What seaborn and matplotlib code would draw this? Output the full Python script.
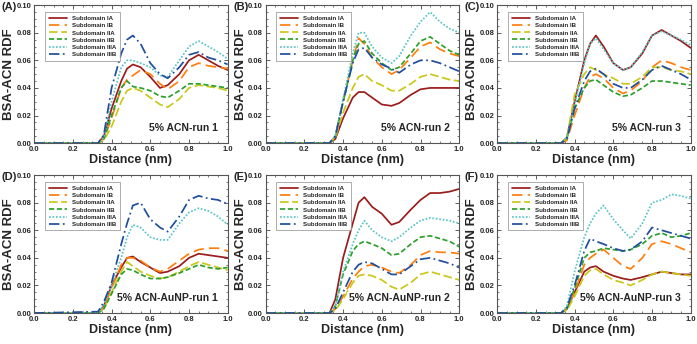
import numpy as np
import pandas as pd
import matplotlib
matplotlib.use("Agg")
import matplotlib.pyplot as plt
from matplotlib.ticker import MultipleLocator
import seaborn as sns

# data area
distance = [0.0, 0.33, 0.36, 0.40, 0.45, 0.48, 0.51, 0.55, 0.60, 0.65, 0.69,
            0.75, 0.80, 0.85, 0.90, 0.95, 1.00]
subdomains = ['Subdomain IA', 'Subdomain IB', 'Subdomain IIA',
              'Subdomain IIB', 'Subdomain IIIA', 'Subdomain IIIB']
panel_tags = ['(A)', '(B)', '(C)', '(D)', '(E)', '(F)']
run_names = ['5% ACN-run 1', '5% ACN-run 2', '5% ACN-run 3',
             '5% ACN-AuNP-run 1', '5% ACN-AuNP-run 2', '5% ACN-AuNP-run 3']

run_a = [
    [0, 0, 0.005, 0.025, 0.045, 0.054, 0.057, 0.055, 0.048, 0.040, 0.042, 0.050, 0.060, 0.064, 0.060, 0.056, 0.053],
    [0, 0, 0.003, 0.018, 0.040, 0.046, 0.049, 0.053, 0.050, 0.043, 0.039, 0.045, 0.055, 0.058, 0.056, 0.055, 0.054],
    [0, 0, 0.002, 0.012, 0.030, 0.038, 0.040, 0.038, 0.033, 0.028, 0.026, 0.032, 0.040, 0.042, 0.041, 0.040, 0.038],
    [0, 0, 0.003, 0.020, 0.040, 0.045, 0.041, 0.040, 0.038, 0.034, 0.033, 0.038, 0.043, 0.043, 0.042, 0.041, 0.040],
    [0, 0, 0.004, 0.030, 0.055, 0.060, 0.060, 0.058, 0.055, 0.049, 0.048, 0.060, 0.070, 0.074, 0.070, 0.066, 0.061],
    [0, 0, 0.006, 0.040, 0.065, 0.075, 0.078, 0.072, 0.058, 0.050, 0.047, 0.055, 0.064, 0.066, 0.062, 0.060, 0.057],
]
run_b = [
    [0, 0, 0.003, 0.018, 0.033, 0.037, 0.037, 0.033, 0.028, 0.027, 0.029, 0.035, 0.039, 0.040, 0.040, 0.040, 0.040],
    [0, 0, 0.005, 0.030, 0.060, 0.076, 0.072, 0.062, 0.055, 0.050, 0.053, 0.062, 0.070, 0.073, 0.068, 0.065, 0.063],
    [0, 0, 0.004, 0.022, 0.040, 0.048, 0.050, 0.045, 0.042, 0.038, 0.038, 0.043, 0.048, 0.050, 0.048, 0.046, 0.045],
    [0, 0, 0.005, 0.030, 0.060, 0.072, 0.074, 0.065, 0.058, 0.053, 0.055, 0.065, 0.074, 0.077, 0.072, 0.067, 0.064],
    [0, 0, 0.005, 0.032, 0.065, 0.080, 0.080, 0.070, 0.062, 0.058, 0.063, 0.078, 0.088, 0.095, 0.088, 0.083, 0.080],
    [0, 0, 0.005, 0.030, 0.058, 0.068, 0.069, 0.062, 0.057, 0.054, 0.051, 0.057, 0.060, 0.060, 0.058, 0.055, 0.052],
]
run_c = [
    [0, 0, 0.004, 0.030, 0.060, 0.072, 0.078, 0.070, 0.058, 0.053, 0.055, 0.065, 0.078, 0.082, 0.078, 0.074, 0.069],
    [0, 0, 0.002, 0.020, 0.040, 0.048, 0.050, 0.047, 0.040, 0.036, 0.038, 0.045, 0.055, 0.060, 0.058, 0.055, 0.053],
    [0, 0, 0.004, 0.035, 0.050, 0.055, 0.053, 0.050, 0.047, 0.043, 0.043, 0.048, 0.055, 0.055, 0.053, 0.052, 0.050],
    [0, 0, 0.003, 0.025, 0.040, 0.045, 0.046, 0.042, 0.037, 0.034, 0.035, 0.040, 0.045, 0.045, 0.044, 0.043, 0.042],
    [0, 0, 0.004, 0.028, 0.058, 0.072, 0.076, 0.068, 0.058, 0.053, 0.055, 0.066, 0.078, 0.081, 0.078, 0.075, 0.071],
    [0, 0, 0.003, 0.025, 0.045, 0.052, 0.054, 0.050, 0.043, 0.040, 0.040, 0.046, 0.053, 0.056, 0.053, 0.050, 0.046],
]
run_d = [
    [0, 0, 0.005, 0.020, 0.033, 0.040, 0.041, 0.037, 0.033, 0.029, 0.030, 0.034, 0.040, 0.043, 0.042, 0.041, 0.040],
    [0, 0, 0.004, 0.018, 0.035, 0.040, 0.040, 0.038, 0.033, 0.030, 0.032, 0.038, 0.043, 0.046, 0.047, 0.047, 0.045],
    [0, 0, 0.003, 0.015, 0.030, 0.037, 0.034, 0.030, 0.027, 0.025, 0.026, 0.030, 0.034, 0.037, 0.035, 0.033, 0.031],
    [0, 0, 0.003, 0.014, 0.028, 0.032, 0.031, 0.028, 0.025, 0.025, 0.026, 0.029, 0.032, 0.035, 0.033, 0.032, 0.033],
    [0, 0, 0.006, 0.020, 0.040, 0.055, 0.064, 0.062, 0.055, 0.053, 0.053, 0.065, 0.073, 0.076, 0.074, 0.070, 0.064],
    [0, 0.001, 0.008, 0.022, 0.050, 0.065, 0.078, 0.080, 0.068, 0.062, 0.059, 0.070, 0.082, 0.085, 0.083, 0.082, 0.079],
]
run_e = [
    [0, 0, 0.010, 0.040, 0.065, 0.080, 0.084, 0.077, 0.072, 0.064, 0.066, 0.075, 0.082, 0.087, 0.087, 0.088, 0.090],
    [0, 0, 0.003, 0.012, 0.025, 0.030, 0.034, 0.035, 0.033, 0.030, 0.029, 0.035, 0.042, 0.045, 0.044, 0.044, 0.043],
    [0, 0, 0.002, 0.010, 0.022, 0.027, 0.028, 0.027, 0.024, 0.019, 0.017, 0.022, 0.028, 0.030, 0.028, 0.026, 0.024],
    [0, 0, 0.005, 0.028, 0.045, 0.050, 0.052, 0.050, 0.047, 0.042, 0.043, 0.050, 0.055, 0.056, 0.054, 0.052, 0.048],
    [0, 0, 0.005, 0.030, 0.050, 0.060, 0.067, 0.060, 0.055, 0.052, 0.055, 0.062, 0.067, 0.069, 0.068, 0.067, 0.065],
    [0, 0, 0.003, 0.015, 0.030, 0.035, 0.037, 0.036, 0.032, 0.028, 0.028, 0.034, 0.039, 0.040, 0.038, 0.036, 0.033],
]
run_f = [
    [0, 0, 0.003, 0.015, 0.030, 0.033, 0.034, 0.030, 0.027, 0.025, 0.024, 0.026, 0.028, 0.030, 0.029, 0.028, 0.028],
    [0, 0, 0.003, 0.015, 0.035, 0.040, 0.043, 0.046, 0.040, 0.034, 0.032, 0.040, 0.050, 0.052, 0.050, 0.047, 0.044],
    [0, 0, 0.002, 0.012, 0.027, 0.031, 0.032, 0.028, 0.024, 0.022, 0.020, 0.024, 0.028, 0.030, 0.029, 0.028, 0.027],
    [0, 0, 0.003, 0.018, 0.040, 0.044, 0.045, 0.047, 0.046, 0.045, 0.046, 0.050, 0.056, 0.058, 0.055, 0.056, 0.058],
    [0, 0, 0.005, 0.030, 0.055, 0.065, 0.072, 0.078, 0.068, 0.060, 0.054, 0.065, 0.080, 0.082, 0.086, 0.085, 0.083],
    [0, 0, 0.004, 0.020, 0.045, 0.054, 0.052, 0.050, 0.047, 0.045, 0.046, 0.052, 0.062, 0.060, 0.058, 0.056, 0.054],
]
all_runs = [run_a, run_b, run_c, run_d, run_e, run_f]

# styles
colors = ['#9b1c1c', '#ff7f0e', '#c9c81a', '#2ca02c', '#5cc4c4', '#1f4e9e']
dashes = [(None, None), (6, 3), (5, 2), (3, 1.5), (1, 1), (6, 2, 1, 2)]

sns.set_style('ticks')
plt.rcParams['font.family'] = ['Liberation Sans', 'DejaVu Sans']
plt.rcParams['font.weight'] = 'bold'

fig, axes = plt.subplots(2, 3, figsize=(6.97, 3.44), dpi=100)
fig.subplots_adjust(left=0.049, right=0.991, top=0.985, bottom=0.090,
                    wspace=0.196, hspace=0.232)

for i, ax in enumerate(axes.flat):
    for j, name in enumerate(subdomains):
        df = pd.DataFrame({'x': distance, 'y': all_runs[i][j]})
        sns.lineplot(data=df, x='x', y='y', ax=ax, color=colors[j],
                     lw=1.25, label=name)
        ln = ax.lines[-1]
        if dashes[j][0] is not None:
            ln.set_dashes(dashes[j])
    ax.set_xlim(0, 1.0)
    ax.set_ylim(0, 0.1)
    ax.xaxis.set_major_locator(MultipleLocator(0.2))
    ax.xaxis.set_minor_locator(MultipleLocator(0.05))
    ax.yaxis.set_major_locator(MultipleLocator(0.02))
    ax.yaxis.set_minor_locator(MultipleLocator(0.005))
    ax.xaxis.set_major_formatter(plt.FuncFormatter(lambda v, p: f'{v:.1f}'))
    ax.yaxis.set_major_formatter(plt.FuncFormatter(lambda v, p: f'{v:.2f}'))
    ax.tick_params(which='both', direction='in', top=True, right=True,
                   labelsize=5.5, pad=2, color='#444444')
    ax.tick_params(which='major', length=3, width=0.6)
    ax.tick_params(which='minor', length=1.5, width=0.5)
    for lab in ax.get_xticklabels() + ax.get_yticklabels():
        lab.set_fontweight('bold')
    for sp in ax.spines.values():
        sp.set_color('#555555')
        sp.set_linewidth(0.8)
    ax.set_xlabel('Distance (nm)', fontsize=9, fontweight='bold', labelpad=1)
    ax.set_ylabel('BSA-ACN RDF', fontsize=9.5, fontweight='bold', labelpad=1)
    leg = ax.legend(loc='upper left', bbox_to_anchor=(0.04, 0.97),
                    fontsize=4.4, handlelength=3.0, labelspacing=0.3,
                    borderpad=0.6, handletextpad=0.8, frameon=True,
                    fancybox=False, edgecolor='#888888')
    leg.get_frame().set_linewidth(0.6)
    for t in leg.get_texts():
        t.set_fontweight('bold')
    ax.text(0.95, 0.11, run_names[i], transform=ax.transAxes, ha='right',
            va='center', fontsize=7.5, fontweight='bold',
            bbox=dict(facecolor='white', edgecolor='none', pad=1))
    ax.text(-0.168, 0.985, panel_tags[i], transform=ax.transAxes, ha='left',
            va='center', fontsize=8, fontweight='bold')

fig.savefig('out.png', dpi=100)
